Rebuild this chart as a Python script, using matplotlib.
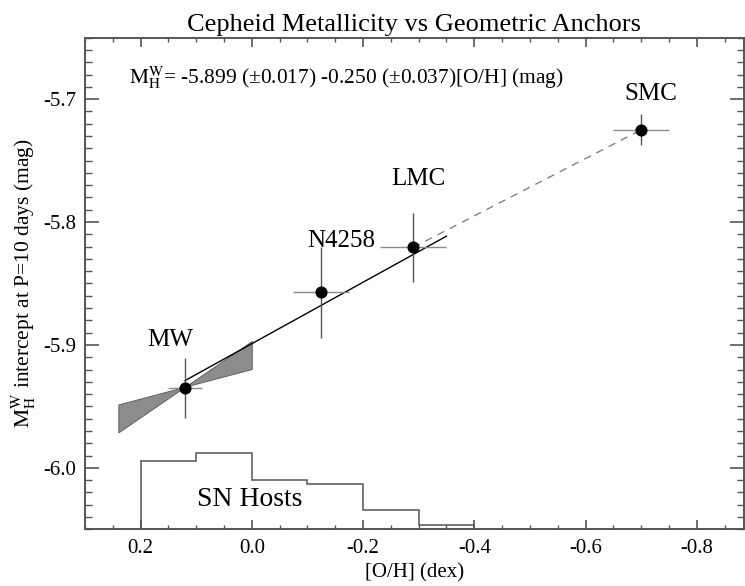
import numpy as np
import matplotlib
matplotlib.use("Agg")
import matplotlib.pyplot as plt
from matplotlib.ticker import MultipleLocator, FormatStrFormatter

plt.rcParams['font.family'] = ['Liberation Serif', 'DejaVu Serif']
plt.rcParams['mathtext.fontset'] = 'stix'
plt.rcParams['axes.unicode_minus'] = False

# anchors: [O/H] and intercept with errors
names = ['MW', 'N4258', 'LMC', 'SMC']
oh = [0.12, -0.124, -0.29, -0.70]
oh_err = [0.03, 0.05, 0.06, 0.05]
mag = [-5.935, -5.857, -5.8207, -5.725]
mag_err = [0.0245, 0.037, 0.028, 0.0126]

# label positions (data coords)
label_x = [0.147, -0.161, -0.299, -0.718]
label_y = [-5.9008, -5.8207, -5.7696, -5.7011]

# fit line
fit_a = -5.899
fit_b = -0.250
fit_x = [0.12, -0.35]

# MW slope wedge
wedge_x0, wedge_y0 = 0.12, -5.934
wedge_slopes = [-0.12, -0.31]
wedge_x = [0.24, 0.12, 0.0]

# SN host histogram (bin edges in [O/H], counts)
hist_edges = [0.3, 0.2, 0.1, 0.0, -0.1, -0.2, -0.3, -0.4]
hist_counts = [0, 18, 20, 13, 12, 5, 1]
hist_base = -6.05
hist_scale = 0.0031

MH = r'$\mathrm{M}_\mathrm{H}^\mathrm{W}$'

fig = plt.figure(figsize=(7.45, 5.86), dpi=100)
ax = fig.add_axes([0.114, 0.0968, 0.8847, 0.8389])

# wedge
wx = np.array(wedge_x)
w1 = wedge_y0 + wedge_slopes[0] * (wx - wedge_x0)
w2 = wedge_y0 + wedge_slopes[1] * (wx - wedge_x0)
ax.fill_between(wx, w1, w2, facecolor='#8c8c8c', edgecolor='#555555', lw=0.6, zorder=2)

# fit line + dashed LMC-SMC
fx = np.array(fit_x)
ax.plot(fx, fit_a + fit_b * fx, color='black', lw=1.0, zorder=3)
ax.plot(oh[2:], mag[2:], color='#777777', lw=0.9, ls=(0, (6, 5)), zorder=3)

# error bars and points
ax.errorbar(oh, mag, xerr=oh_err, fmt='none', ecolor='#8a8a8a', elinewidth=1.0, capsize=0, zorder=4)
ax.errorbar(oh, mag, yerr=mag_err, fmt='none', ecolor='#555555', elinewidth=1.0, capsize=0, zorder=4)
ax.plot(oh, mag, 'o', color='black', ms=7.7, zorder=5)

for n, lx, ly in zip(names, label_x, label_y):
    ax.text(lx, ly, n, fontsize=18, ha='center', va='baseline')

# histogram
counts = np.array(hist_counts)
ax.stairs(hist_base + counts * hist_scale, hist_edges, baseline=hist_base,
          color='#555555', lw=1.1, zorder=2)
ax.text(0.003, -6.0312, 'SN Hosts', fontsize=20, ha='center', va='baseline')

ax.text(0.2215, -5.6875, MH + '= -5.899 (±0.017) -0.250 (±0.037)[O/H] (mag)',
        fontsize=15.4, ha='left', va='baseline')

ax.set_xlim(0.3, -0.885)
ax.set_ylim(-6.05, -5.65)

ax.xaxis.set_major_locator(MultipleLocator(0.2))
ax.xaxis.set_minor_locator(MultipleLocator(0.05))
ax.yaxis.set_major_locator(MultipleLocator(0.1))
ax.yaxis.set_minor_locator(MultipleLocator(0.01))
ax.xaxis.set_major_formatter(FormatStrFormatter('%.1f'))
ax.yaxis.set_major_formatter(FormatStrFormatter('%.1f'))

ax.tick_params(which='both', direction='in', top=True, right=True, colors='#555555',
               labelcolor='black', labelsize=15)
ax.tick_params(axis='y', which='major', length=10, width=1.2, pad=6)
ax.tick_params(axis='y', which='minor', length=4.8, width=1.0)
ax.tick_params(axis='x', which='major', length=6.7, width=1.2, pad=7)
ax.tick_params(axis='x', which='minor', length=3.1, width=1.0)
for s in ax.spines.values():
    s.set_color('#555555')
    s.set_linewidth(1.4)

ax.set_title('Cepheid Metallicity vs Geometric Anchors', fontsize=19, pad=5)
ax.set_xlabel('[O/H] (dex)', fontsize=15, labelpad=4)
ax.set_ylabel(MH + ' intercept at P=10 days (mag)', fontsize=15.5, labelpad=4)

fig.savefig('out.png', dpi=100)
